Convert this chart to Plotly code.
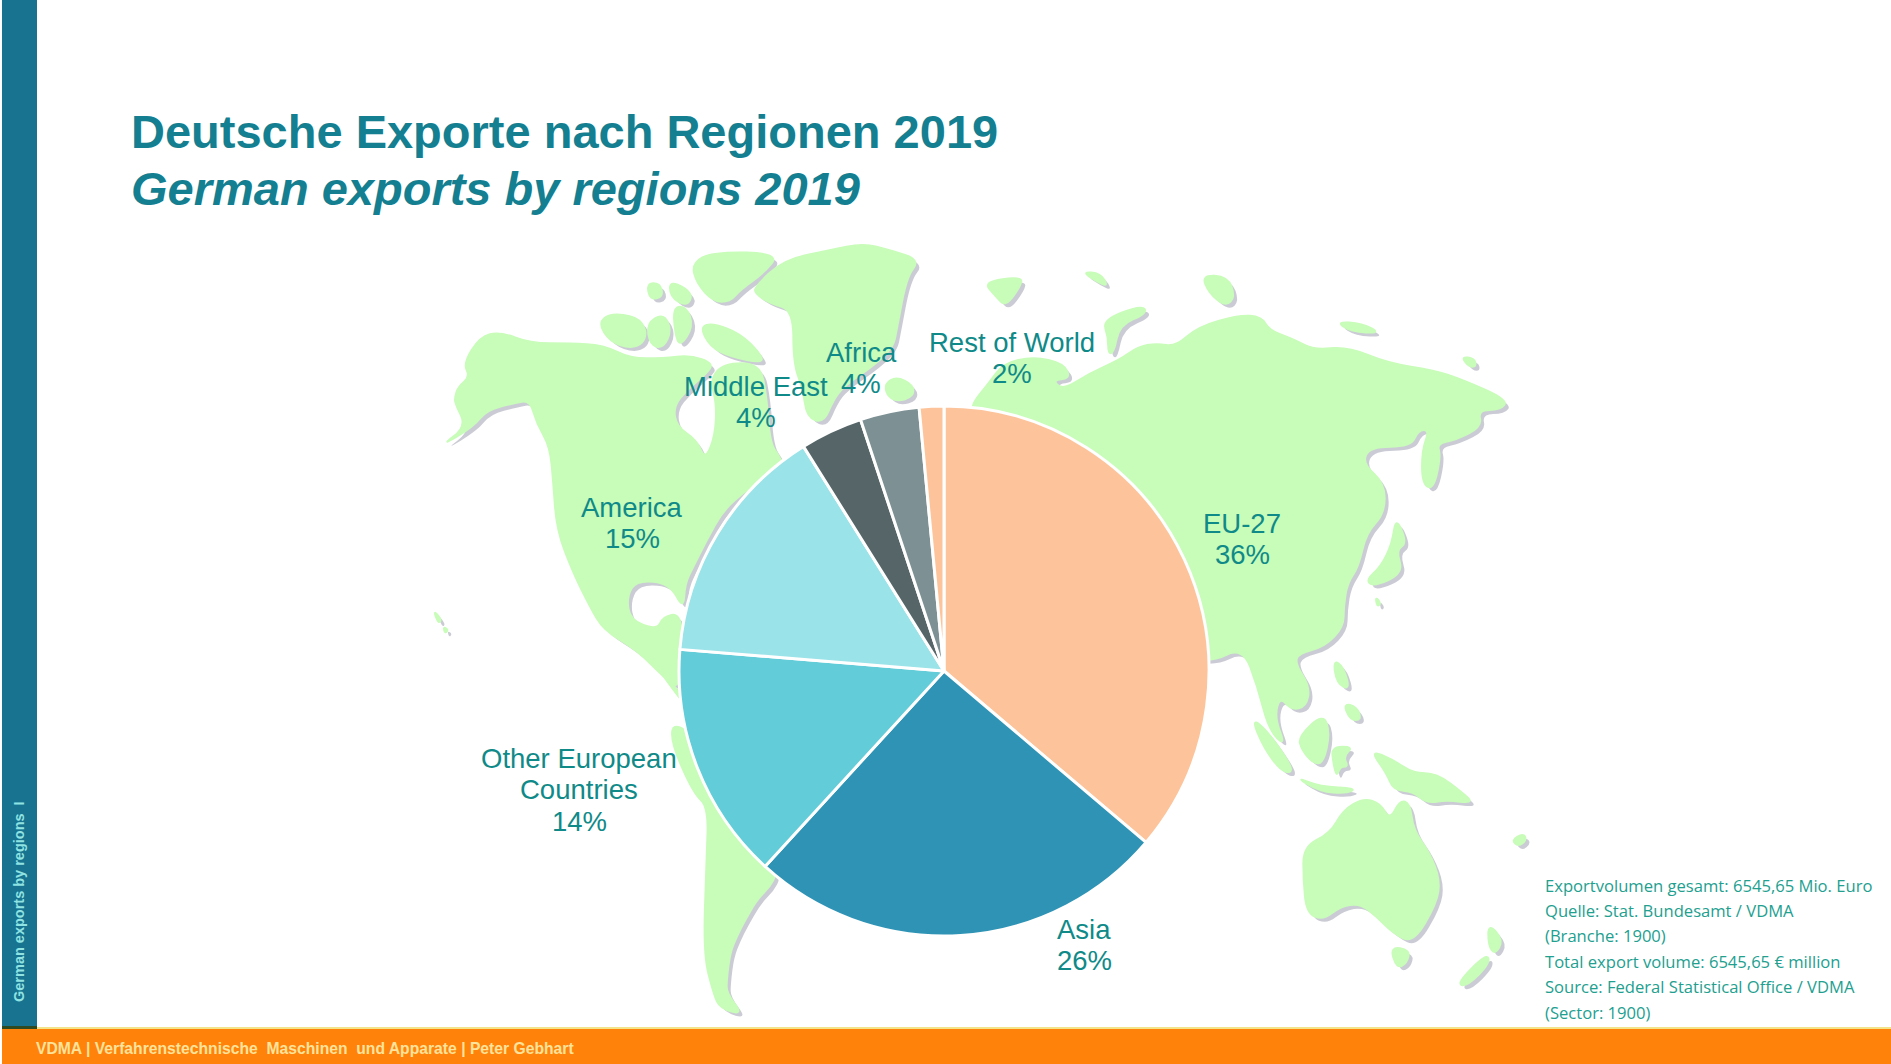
import plotly.graph_objects as go

W, H = 1891, 1064

# ---- chart data ----
categories = ["EU-27", "Asia", "Other European\nCountries", "America", "Middle East", "Africa", "Rest of World"]
shares = [36.2, 25.6, 14.5, 14.8, 3.8, 3.6, 1.5]
share_labels = ["36%", "26%", "14%", "15%", "4%", "4%", "2%"]
slice_colors = ["#FDC49B", "#2E93B5", "#62CCD8", "#9AE3E8", "#566568", "#7D9093", "#FDC49B"]
label_centers = [(1242, 539), (1084, 945), (579, 790), (632, 523), (756, 402), (861, 368), (1012, 358)]

title_lines = ["Deutsche Exporte nach Regionen 2019", "German exports by regions 2019"]
source_lines = [
    "Exportvolumen gesamt: 6545,65 Mio. Euro",
    "Quelle: Stat. Bundesamt / VDMA",
    "(Branche: 1900)",
    "Total export volume: 6545,65 € million",
    "Source: Federal Statistical Office / VDMA",
    "(Sector: 1900)",
]
footer_text = "VDMA | Verfahrenstechnische  Maschinen  und Apparate | Peter Gebhart"
side_text = "German exports by regions  I"

# ---- decorative background map outlines, in crop-local units (x0, y0, sx, sy, points) ----
NA = (430, 230, 3, 3)
EA = (940, 250, 2.676, 3)
OC = (1180, 640, 3, 3)
SA = (620, 660, 3, 3)
land = [
    (NA, [(75,500),(85,470),(120,440),(100,400),(150,320),(210,305),(300,340),(420,340),(520,345),(600,385),(700,385),(780,375),(850,400),(830,430),(770,480),(730,530),(740,590),(800,630),(825,690),(855,620),(860,520),(840,450),(880,400),(990,400),(1010,500),(1020,640),(1050,680),(1100,800),(1000,750),(950,780),(880,840),(830,930),(790,1010),(765,1060),(760,1140),(720,1060),(620,1050),(590,1100),(600,1170),(680,1200),(700,1160),(750,1150),(760,1250),(750,1380),(700,1340),(620,1260),(520,1200),(480,1130),(430,1030),(380,900),(370,760),(360,650),(320,580),(300,510),(250,520),(170,540),(130,590),(30,650),(110,590),(75,520)]),
    (NA, [(975,170),(1060,90),(1200,60),(1300,40),(1380,60),(1470,90),(1430,140),(1400,300),(1390,350),(1340,400),(1240,470),(1210,510),(1180,580),(1130,560),(1120,480),(1090,400),(1090,240),(1020,220),(975,190)]),
    (NA, [(785,100),(850,65),(1050,70),(1000,130),(930,180),(900,215),(850,215),(800,160)]),
    (NA, [(810,290),(850,280),(930,310),(990,370),(1000,400),(900,380),(840,350)]),
    (NA, [(505,280),(540,250),(620,260),(650,300),(640,340),(600,355),(540,335)]),
    (NA, [(650,280),(700,250),(725,300),(700,355),(660,345)]),
    (NA, [(650,160),(690,160),(700,200),(660,210)]),
    (NA, [(720,150),(790,190),(770,230),(720,200)]),
    (NA, [(730,230),(770,230),(790,290),(750,350),(735,310)]),
    (NA, [(1365,460),(1400,440),(1450,465),(1450,500),(1400,515),(1370,495)]),
    (NA, [(10,1140),(35,1170),(25,1180)]),
    (NA, [(40,1190),(55,1200),(45,1210)]),
    (SA, [(90,0),(170,80),(300,300),(165,180),(150,240),(220,400),(265,440),(260,600),(250,880),(280,1000),(300,1045),(370,1065),(320,1000),(320,960),(330,880),(350,830),(370,790),(410,720),(450,680),(470,640),(445,620),(400,400)]),
    (EA, [(80,470),(130,400),(170,340),(250,320),(330,340),(350,385),(300,390),(330,420),(400,370),(480,330),(530,290),(580,280),(630,290),(690,230),(800,195),(860,200),(880,240),(950,270),(1000,300),(1090,290),(1200,340),(1320,360),(1400,390),(1520,450),(1500,480),(1440,480),(1450,530),(1380,570),(1330,580),(1340,620),(1320,720),(1290,700),(1290,600),(1310,540),(1280,540),(1260,590),(1150,590),(1130,640),(1190,700),(1190,790),(1140,850),(1120,950),(1090,1000),(1080,1070),(1080,1130),(1030,1190),(960,1210),(950,1240),(990,1310),(980,1370),(940,1380),(910,1340),(895,1400),(925,1490),(880,1440),(850,1310),(810,1190),(720,1240),(600,1200),(300,800),(100,500)]),
    (EA, [(1220,800),(1250,880),(1220,900),(1240,970),(1160,1010),(1140,990),(1180,950),(1210,880)]),
    (EA, [(1165,1040),(1180,1060),(1170,1070)]),
    (EA, [(115,95),(220,80),(215,110),(175,170),(150,140)]),
    (EA, [(380,65),(430,70),(450,110),(420,95)]),
    (EA, [(700,75),(770,80),(790,140),(765,170),(720,130)]),
    (EA, [(435,210),(540,165),(555,190),(480,225),(465,310),(450,310),(450,260)]),
    (EA, [(1060,215),(1130,220),(1180,250),(1100,245)]),
    (EA, [(1395,320),(1430,325),(1435,350),(1415,350)]),
    (OC, [(215,235),(260,270),(330,370),(335,400),(300,390),(250,320)]),
    (OC, [(345,410),(420,440),(530,445),(500,460),(420,455)]),
    (OC, [(355,290),(430,220),(450,280),(430,370),(400,370),(365,330)]),
    (OC, [(455,320),(520,320),(490,350),(505,380),(480,380),(470,410),(460,370)]),
    (OC, [(460,60),(490,80),(510,150),(470,130)]),
    (OC, [(490,190),(530,200),(545,240),(510,240)]),
    (OC, [(570,330),(640,360),(700,400),(770,400),(850,460),(880,490),(800,480),(740,490),(700,455),(640,450),(620,400)]),
    (OC, [(370,620),(450,580),(490,510),(550,475),(600,490),(630,540),(660,480),(690,490),(700,570),(750,640),(780,720),(770,790),(700,910),(640,880),(590,830),(540,790),(480,800),(430,840),(380,820),(370,720)]),
    (OC, [(630,920),(690,930),(680,970),(650,985)]),
    (OC, [(925,850),(970,900),(945,945),(925,915)]),
    (OC, [(830,1030),(920,940),(930,970),(860,1040)]),
    (OC, [(995,600),(1030,580),(1040,600),(1015,620)]),
]

LAND = "#C8FCB9"
SHADOW = "#CBCBD5"
TEAL = "#0F8A88"


def px(x):
    return x / W


def py(y):
    return 1 - y / H


def poly_path(crop, pts, dx=0, dy=0):
    """Closed outline with corners rounded by quadratic segments through edge midpoints."""
    x0, y0, sx, sy = crop
    p = [(px(x0 + a / sx + dx), py(y0 + b / sy + dy)) for a, b in pts]
    n = len(p)
    mid = [((p[i][0] + p[(i + 1) % n][0]) / 2, (p[i][1] + p[(i + 1) % n][1]) / 2) for i in range(n)]
    cmds = [f"M{mid[-1][0]:.5f},{mid[-1][1]:.5f}"]
    for i in range(n):
        cmds.append(f"Q{p[i][0]:.5f},{p[i][1]:.5f} {mid[i][0]:.5f},{mid[i][1]:.5f}")
    return " ".join(cmds) + " Z"


shapes = []
for crop, pts in land:
    shapes.append(dict(type="path", path=poly_path(crop, pts, 4, 4), xref="paper", yref="paper",
                       fillcolor=SHADOW, line=dict(color=SHADOW, width=0), layer="below"))
for crop, pts in land:
    shapes.append(dict(type="path", path=poly_path(crop, pts), xref="paper", yref="paper",
                       fillcolor=LAND, line=dict(color=LAND, width=2), layer="below"))


def rect(x0, y0, x1, y1, color):
    shapes.append(dict(type="rect", xref="paper", yref="paper", x0=px(x0), x1=px(x1), y0=py(y1), y1=py(y0),
                       fillcolor=color, line=dict(width=0), layer="below"))


rect(2, 0, 37, 1028, "#17738F")
rect(2, 1026, 37, 1029, "#2E4A20")
rect(37, 1027, W, 1029, "#F3E48A")
rect(2, 1029, W, H, "#FF820A")

ann = []


def text(x, y, s, size, color, anchor="center", family="Liberation Sans", rot=0, yanchor="middle"):
    ann.append(dict(x=px(x), y=py(y), xref="paper", yref="paper", text=s, showarrow=False, xanchor=anchor,
                    yanchor=yanchor, textangle=rot, font=dict(family=family, size=size, color=color)))


text(129, 131, f"<b>{title_lines[0]}</b>", 47, "#137F90", "left")
text(129, 189, f"<b><i>{title_lines[1]}</i></b>", 47, "#137F90", "left")

LINE = 31.5
for cat, pct, (cx, cy) in zip(categories, share_labels, label_centers):
    lines = cat.split("\n") + [pct]
    top = cy - LINE * (len(lines) - 1) / 2
    for i, ln in enumerate(lines):
        text(cx, top + i * LINE, ln, 27.5, TEAL)

for i, ln in enumerate(source_lines):
    text(1543, 885 + i * 25.4, ln, 16.6, "#22A08F", "left", "Open Sans")

text(34, 1048, f"<b>{footer_text}</b>", 15.7, "#FFE39A", "left")
text(19, 902, f"<b>{side_text}</b>", 14.5, "#8FE3E3", rot=-90)

R = 265
CX, CY = 944, 671
fig = go.Figure(go.Pie(
    labels=[c.replace("\n", " ") for c in categories],
    values=shares,
    sort=False,
    direction="clockwise",
    rotation=0,
    textinfo="none",
    showlegend=False,
    marker=dict(colors=slice_colors, line=dict(color="white", width=3)),
    domain=dict(x=[px(CX - R), px(CX + R)], y=[py(CY + R), py(CY - R)]),
))
fig.update_layout(width=W, height=H, margin=dict(l=0, r=0, t=0, b=0), paper_bgcolor="white",
                  plot_bgcolor="white", shapes=shapes, annotations=ann, showlegend=False)
fig.write_html("out.html", config=dict(displayModeBar=False),
               post_script="document.body.style.margin='0';document.body.style.overflow='hidden';")
